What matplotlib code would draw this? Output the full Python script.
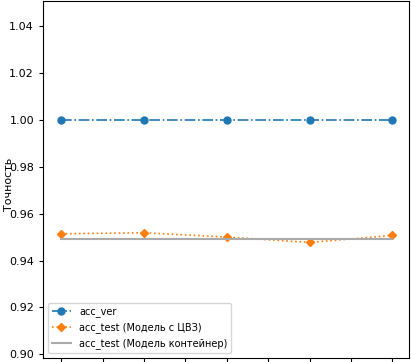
import matplotlib
matplotlib.use("Agg")
import matplotlib.pyplot as plt

epochs = [0, 1, 2, 3, 4]
acc_ver = [1.0, 1.0, 1.0, 1.0, 1.0]
acc_test_cvz = [0.9514, 0.9518, 0.9500, 0.9477, 0.9507]
acc_test_cont = [0.9490, 0.9490, 0.9490, 0.9490, 0.9490]
ylabel = "Точность"
labels = ["acc_ver", "acc_test (Модель с ЦВЗ)", "acc_test (Модель контейнер)"]

fig = plt.figure(figsize=(4.11, 3.62), dpi=100)
ax = fig.add_axes([43/411, 1 - 358/362, (409-43)/411, 358/362 - 0.002])

ax.plot(epochs, acc_ver, linestyle='-.', marker='o', markersize=5, color='#1f77b4', label=labels[0], linewidth=1.2)
ax.plot(epochs, acc_test_cvz, linestyle=':', marker='D', markersize=4.5, color='#ff7f0e', label=labels[1], linewidth=1.2)
ax.plot(epochs, acc_test_cont, linestyle='-', color='#aaaaaa', label=labels[2], linewidth=1.5)

ax.set_xlim(-0.22, 4.2)
ax.set_ylim(0.8985, 1.0506)
ax.set_xticks([0, 0.5, 1, 1.5, 2, 2.5, 3, 3.5, 4])
ax.set_yticks([0.90, 0.92, 0.94, 0.96, 0.98, 1.00, 1.02, 1.04])
ax.tick_params(axis='both', labelsize=8, length=3)
ax.set_ylabel(ylabel, fontsize=8)
ax.yaxis.set_label_coords(-0.08, 0.485)
ax.legend(loc='lower left', fontsize=7, frameon=True)

fig.savefig("out.png", dpi=100)
